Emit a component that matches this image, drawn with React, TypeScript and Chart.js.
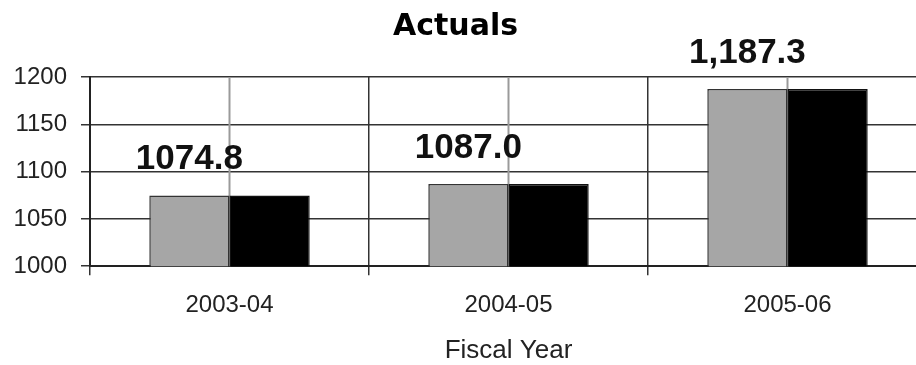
import React, { useEffect, useRef } from "react";
import { Chart, registerables } from "chart.js";

Chart.register(...registerables);

const categories = ["2003-04", "2004-05", "2005-06"];
const seriesA = [1074.8, 1087.0, 1187.3];
const seriesB = [1074.8, 1087.0, 1187.3];
const valueLabels = ["1074.8", "1087.0", "1,187.3"];
const yTicks = [1000, 1050, 1100, 1150, 1200];

const centerLines = {
  id: "centerLines",
  beforeDatasetsDraw(chart: any) {
    const { ctx, chartArea, scales } = chart;
    ctx.save();
    ctx.strokeStyle = "#9a9a9a";
    ctx.lineWidth = 2;
    categories.forEach((_, i) => {
      const x = scales.x.getPixelForValue(i);
      ctx.beginPath();
      ctx.moveTo(x, chartArea.top);
      ctx.lineTo(x, chartArea.bottom);
      ctx.stroke();
    });
    ctx.restore();
  },
};

const valueLabelPlugin = {
  id: "valueLabels",
  afterDatasetsDraw(chart: any) {
    const { ctx } = chart;
    const meta = chart.getDatasetMeta(0);
    ctx.save();
    ctx.fillStyle = "#111";
    ctx.font = "bold 35px 'Liberation Sans', Arial, sans-serif";
    ctx.textAlign = "center";
    ctx.textBaseline = "alphabetic";
    meta.data.forEach((el: any, i: number) => {
      ctx.fillText(valueLabels[i], el.x, el.y - 26);
    });
    ctx.restore();
  },
};

export default function App() {
  const ref = useRef<HTMLCanvasElement | null>(null);
  useEffect(() => {
    document.body.style.margin = "0";
    const chart = new Chart(ref.current!, {
      type: "bar",
      data: {
        labels: categories,
        datasets: [
          {
            label: "Series 1",
            data: seriesA,
            backgroundColor: "#a6a6a6",
            borderColor: "#333",
            borderWidth: 1.5,
            barPercentage: 1,
            categoryPercentage: 0.575,
          },
          {
            label: "Series 2",
            data: seriesB,
            backgroundColor: "#000",
            borderColor: "#111",
            borderWidth: 1.5,
            barPercentage: 1,
            categoryPercentage: 0.575,
          },
        ],
      },
      options: {
        responsive: false,
        animation: false,
        devicePixelRatio: 1,
        layout: { padding: { left: -16, right: 0, top: 0, bottom: 0 } },
        plugins: {
          legend: { display: false },
          tooltip: { enabled: false },
          title: {
            display: true,
            text: "Actuals",
            color: "#000",
            font: { family: "'DejaVu Sans', Verdana, sans-serif", size: 30, weight: "bold" },
            padding: { top: 9, bottom: 32 },
          },
        },
        scales: {
          x: {
            grid: {
              offset: true,
              color: "#333",
              lineWidth: 1.5,
              tickLength: 9,
            },
            border: { color: "#222", width: 2 },
            ticks: {
              color: "#222",
              font: { family: "'Liberation Sans', Arial, sans-serif", size: 24 },
              padding: 16,
            },
            title: {
              display: true,
              text: "Fiscal Year",
              color: "#222",
              font: { family: "'Liberation Sans', Arial, sans-serif", size: 26, lineHeight: 1.0 },
              padding: { top: 2, bottom: 1 },
            },
          },
          y: {
            min: 1000,
            max: 1200,
            afterFit(scale: any) {
              scale.width = 106;
            },
            afterBuildTicks(scale: any) {
              scale.ticks = yTicks.map((v) => ({ value: v }));
            },
            grid: { color: "#333", lineWidth: 1.5, tickLength: 9 },
            border: { color: "#222", width: 2 },
            ticks: {
              color: "#222",
              font: { family: "'Liberation Sans', Arial, sans-serif", size: 24 },
              padding: 14,
              callback: (v: any) => String(v),
            },
          },
        },
      },
      plugins: [centerLines, valueLabelPlugin],
    });
    return () => chart.destroy();
  }, []);
  return (
    <div style={{ position: "fixed", left: 0, top: 0, width: 916, height: 365, overflow: "hidden", background: "#fff" }}>
      <canvas ref={ref} width={927} height={365} style={{ display: "block" }} />
    </div>
  );
}
